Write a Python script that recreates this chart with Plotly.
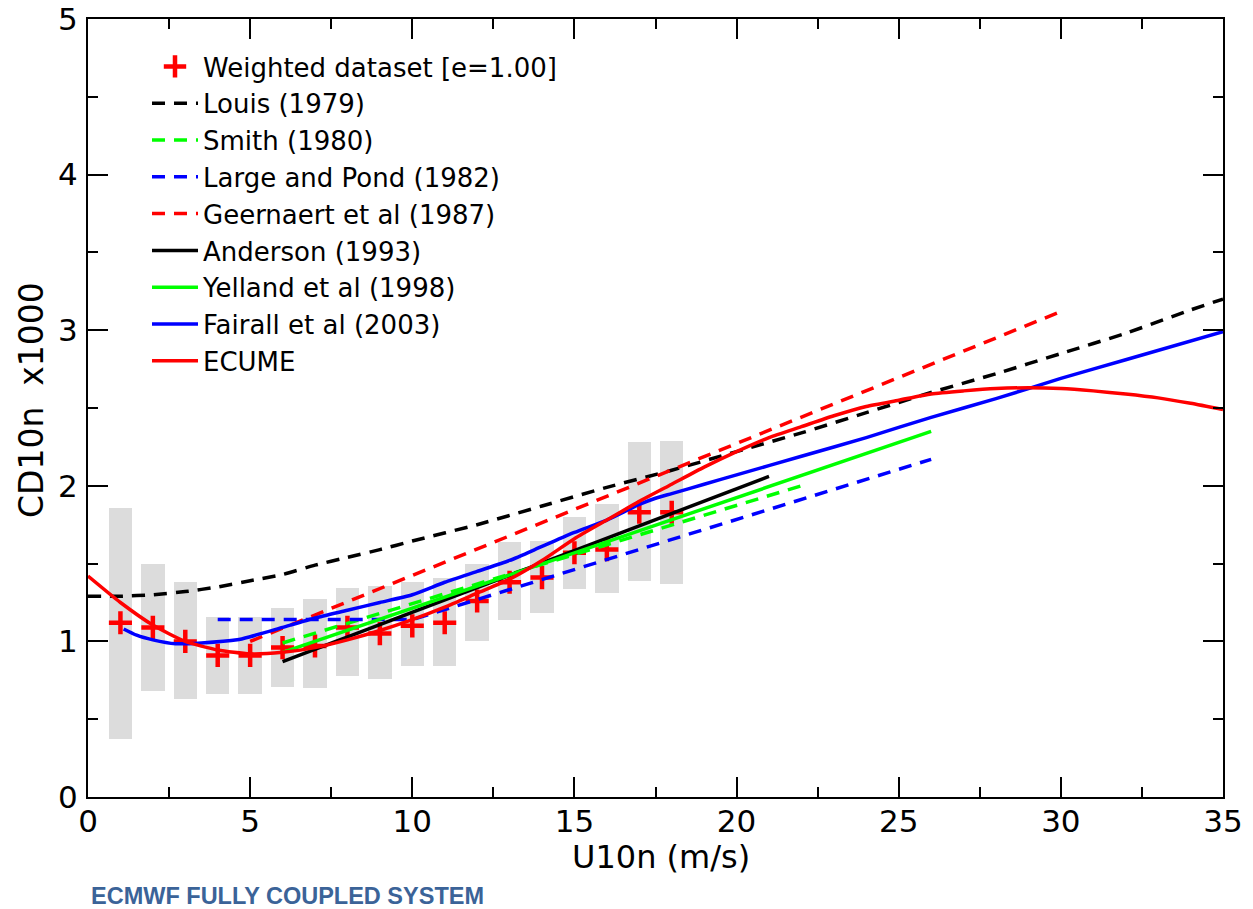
import plotly.graph_objects as go

# ---- data ----
bin_wind = [1, 2, 3, 4, 5, 6, 7, 8, 9, 10, 11, 12, 13, 14, 15, 16, 17, 18]
bin_low = [0.37, 0.68, 0.63, 0.66, 0.66, 0.71, 0.70, 0.78, 0.76, 0.84, 0.84, 1.00, 1.14, 1.18, 1.34, 1.31, 1.39, 1.37]
bin_high = [1.86, 1.50, 1.38, 1.155, 1.155, 1.215, 1.27, 1.345, 1.355, 1.38, 1.41, 1.50, 1.64, 1.645, 1.80, 1.88, 2.28, 2.29]
weighted_cd = [1.12, 1.09, 1.00, 0.91, 0.91, 0.96, 0.97, 1.09, 1.05, 1.10, 1.12, 1.26, 1.38, 1.41, 1.57, 1.59, 1.83, 1.83]

louis_u = [0, 1, 2, 3, 4, 5, 6, 7, 8, 9, 10, 12, 14, 16, 18, 20, 22, 24, 26, 28, 30, 32, 34, 35]
louis_cd = [1.29, 1.29, 1.30, 1.32, 1.35, 1.39, 1.43, 1.49, 1.54, 1.59, 1.645, 1.75, 1.87, 1.99, 2.10,
            2.22, 2.34, 2.47, 2.60, 2.72, 2.85, 2.98, 3.13, 3.20]

smith_u = [6, 22]
smith_cd = [0.99, 2.00]

largepond_u = [4, 10, 26]
largepond_cd = [1.14, 1.14, 2.17]

geernaert_u = [5, 30]
geernaert_cd = [1.00, 3.12]

anderson_u = [6, 21]
anderson_cd = [0.87, 2.06]

yelland_u = [6, 26]
yelland_cd = [0.93, 2.35]

fairall_u = [1.1, 1.5, 2, 2.7, 3.5, 4.6, 5, 6, 7, 8, 9, 10, 11, 12, 13, 14, 15, 16, 17, 17.5,
             18, 19, 20, 22, 24, 26, 28, 30, 32, 35]
fairall_cd = [1.08, 1.04, 1.01, 0.985, 0.99, 1.01, 1.03, 1.09, 1.15, 1.20, 1.25, 1.30, 1.38, 1.45,
              1.52, 1.61, 1.70, 1.78, 1.88, 1.92, 1.95, 2.01, 2.07, 2.19, 2.31, 2.44, 2.56, 2.69,
              2.81, 2.99]

ecume_u = list(range(0, 36))
ecume_cd = [1.42, 1.25, 1.105, 1.0, 0.945, 0.92, 0.93, 0.96, 1.01, 1.07, 1.14, 1.22, 1.31, 1.40,
            1.52, 1.66, 1.78, 1.90, 2.01, 2.12, 2.22, 2.31, 2.38, 2.45, 2.51, 2.55, 2.59, 2.61,
            2.625, 2.63, 2.625, 2.61, 2.59, 2.565, 2.53, 2.49]

FONT = "DejaVu Sans"
DASH = "13px,9px"
LW = 3.5

FIG_W, FIG_H = 1253, 909

# plot-area geometry in pixels
L, R, T, B = 88, 1223, 19, 797
PW, PH = R - L, B - T


def px_x(p):
    return (p - L) / PW


def px_y(p):
    return (B - p) / PH


fig = go.Figure()

# grey spread bars
fig.add_trace(go.Bar(
    x=bin_wind, base=bin_low, y=[h - l for h, l in zip(bin_high, bin_low)],
    width=0.72, marker=dict(color="#dcdcdc", line=dict(width=0)),
    showlegend=False, hoverinfo="skip"))

fig.add_trace(go.Scatter(
    x=bin_wind, y=weighted_cd, mode="markers", name="Weighted dataset [e=1.00]",
    marker=dict(symbol="cross-thin", size=16.5, color="red",
                line=dict(color="red", width=4.5))))

lines = [
    ("Louis (1979)", louis_u, louis_cd, "black", DASH, "spline"),
    ("Smith (1980)", smith_u, smith_cd, "#00ff00", DASH, "linear"),
    ("Large and Pond (1982)", largepond_u, largepond_cd, "#0000ff", DASH, "linear"),
    ("Geernaert et al (1987)", geernaert_u, geernaert_cd, "#ff0000", DASH, "linear"),
    ("Anderson (1993)", anderson_u, anderson_cd, "black", "solid", "linear"),
    ("Yelland et al (1998)", yelland_u, yelland_cd, "#00ff00", "solid", "linear"),
    ("Fairall et al (2003)", fairall_u, fairall_cd, "#0000ff", "solid", "spline"),
    ("ECUME", ecume_u, ecume_cd, "#ff0000", "solid", "spline"),
]
for name, xs, ys, col, dash, shape in lines:
    fig.add_trace(go.Scatter(
        x=xs, y=ys, mode="lines", name=name,
        line=dict(color=col, width=LW, dash=dash, shape=shape, smoothing=0.6)))

axis_common = dict(
    showgrid=False, zeroline=False, showline=True, linecolor="black", linewidth=2,
    mirror="ticks", ticks="inside", tickcolor="black", tickwidth=2, ticklen=20,
    tickfont=dict(family=FONT, size=31, color="black"), automargin=False,
    ticklabeloverflow="allow",
)

fig.update_xaxes(
    range=[0, 35], tick0=0, dtick=5, ticklabelstandoff=-4,
    minor=dict(ticks="inside", dtick=2.5, ticklen=10, tickwidth=2, tickcolor="black", showgrid=False),
    **axis_common)
fig.update_yaxes(
    range=[0, 5], tick0=0, dtick=1, ticklabelstandoff=2,
    minor=dict(ticks="inside", dtick=0.5, ticklen=10, tickwidth=2, tickcolor="black", showgrid=False),
    **axis_common)

fig.update_layout(
    width=FIG_W, height=FIG_H,
    margin=dict(l=L, r=FIG_W - R, t=T, b=FIG_H - B),
    plot_bgcolor="white", paper_bgcolor="white",
    font=dict(family=FONT, color="black"),
    showlegend=True,
    legend=dict(
        x=px_x(147), y=px_y(43), xanchor="left", yanchor="top",
        bgcolor="rgba(0,0,0,0)", borderwidth=0, itemwidth=46,
        font=dict(family=FONT, size=26, color="black"), tracegroupgap=0),
    annotations=[
        dict(text="U10n (m/s)", xref="paper", yref="paper",
             x=px_x(661), y=px_y(857), xanchor="center", yanchor="middle",
             showarrow=False, font=dict(family=FONT, size=32, color="black")),
        dict(text="CD10n  x1000", xref="paper", yref="paper", textangle=-90,
             x=px_x(31), y=px_y(400), xanchor="center", yanchor="middle",
             showarrow=False, font=dict(family=FONT, size=33, color="black")),
        dict(text="<b>ECMWF FULLY COUPLED SYSTEM</b>", xref="paper", yref="paper",
             x=px_x(89), y=px_y(896), xanchor="left", yanchor="middle",
             showarrow=False, font=dict(family="Liberation Sans", size=23.5, color="#3b6398")),
    ],
    bargap=0,
)

# remove the default 8px page margin so the figure fills the window exactly
fig.write_html(
    "out.html",
    config={"displayModeBar": False},
    post_script="document.body.style.margin='0';document.body.style.overflow='hidden';",
)
